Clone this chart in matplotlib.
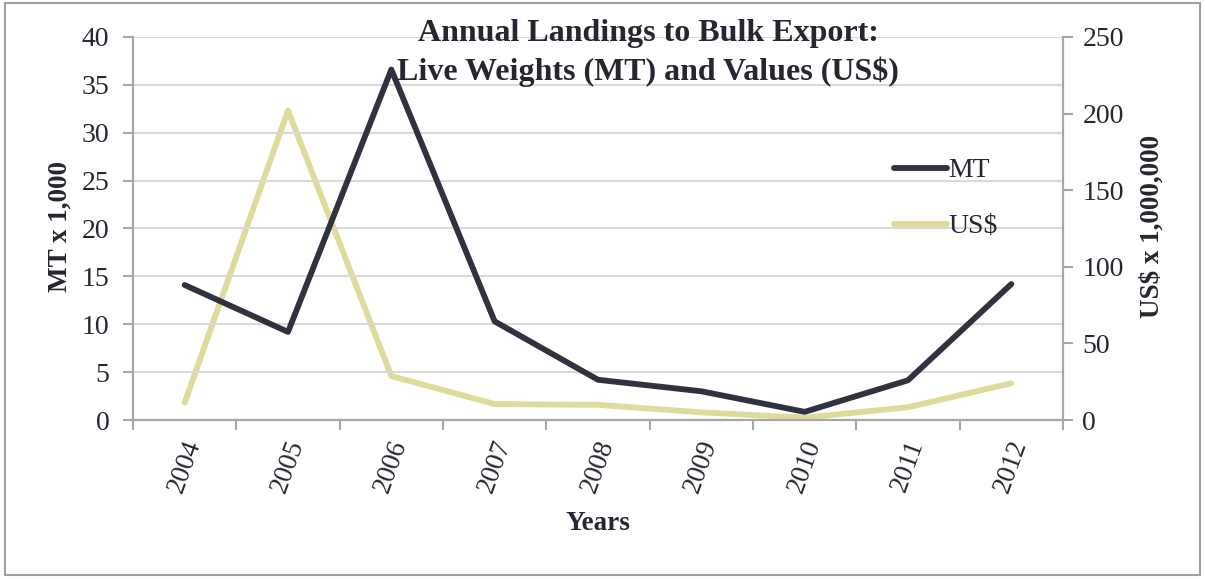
import matplotlib
matplotlib.use("Agg")
import matplotlib.pyplot as plt
from matplotlib.lines import Line2D
from matplotlib.patches import Rectangle
import numpy as np

years = ["2004", "2005", "2006", "2007", "2008", "2009", "2010", "2011", "2012"]
mt_thousands = [14.1, 9.2, 36.6, 10.3, 4.2, 3.0, 0.85, 4.15, 14.2]
usd_millions = [11.3, 202.0, 28.7, 10.4, 9.9, 5.0, 1.5, 8.3, 24.0]

title_lines = ["Annual Landings to Bulk Export:", "Live Weights (MT) and Values (US$)"]

plt.rcParams['font.family'] = ['Liberation Serif', 'DejaVu Serif']

W, H = 1205, 579
fig = plt.figure(figsize=(W / 100, H / 100), dpi=100)
fig.patch.set_facecolor("white")

left, right, top, bottom = 133 / W, 1063 / W, 1 - 37 / H, 1 - 420 / H
ax = fig.add_axes([left, bottom, right - left, top - bottom])
ax2 = ax.twinx()

mt_color = "#30323f"
usd_color = "#dedb9b"
grey = "#a6a6a6"
text_color = "#262630"

x = np.arange(len(years))
ax.plot(x, mt_thousands, color=mt_color, lw=4.2, solid_capstyle="round", zorder=3)
ax2.plot(x, usd_millions, color=usd_color, lw=4.2, solid_capstyle="round", zorder=2)
ax.set_zorder(ax2.get_zorder() + 1)
ax.patch.set_visible(False)

ax.set_xlim(-0.5, len(years) - 0.5)
ax.set_ylim(0, 40)
ax2.set_ylim(0, 250)
ax.set_yticks(np.arange(0, 41, 5))
ax2.set_yticks(np.arange(0, 251, 50))
ax.yaxis.grid(True, color="#d9d9d9", lw=1.5)
ax.set_axisbelow(True)

ax.set_xticks(np.arange(-0.5, len(years), 1.0))
ax.set_xticklabels([])
ax.set_xticks(x, minor=True)
ax.set_xticklabels(years, minor=True, rotation=70, ha="center", va="top", fontsize=19.5, color=text_color)
ax.tick_params(axis="x", which="minor", length=0, pad=12)
ax.tick_params(axis="x", which="major", length=7, width=1.5, color=grey, direction="out")

for a in (ax, ax2):
    for s in a.spines.values():
        s.set_color(grey)
        s.set_linewidth(1.5)
    a.spines["top"].set_visible(False)
ax.tick_params(axis="y", length=7, width=1.5, color=grey, labelsize=20, labelcolor=text_color, pad=10)
ax2.tick_params(axis="y", length=7, width=1.5, color=grey, labelsize=20, labelcolor=text_color, pad=7)

fig.text(60 / W, 1 - 226 / H, "MT x 1,000", rotation=90, ha="center", va="center",
         fontsize=19.5, fontweight="bold", color=text_color)
fig.text(1152 / W, 1 - 226 / H, "US$ x 1,000,000", rotation=90, ha="center", va="center",
         fontsize=19.5, fontweight="bold", color=text_color)
fig.text(598 / W, 1 - 523 / H, "Years", ha="center", va="center",
         fontsize=19.5, fontweight="bold", color=text_color)

fig.text(648 / W, 1 - 33 / H, title_lines[0], ha="center", va="center",
         fontsize=23, fontweight="bold", color=text_color, zorder=5)
fig.text(648 / W, 1 - 72 / H, title_lines[1], ha="center", va="center",
         fontsize=23, fontweight="bold", color=text_color, zorder=5)

handles = [Line2D([0], [0], color=mt_color, lw=4.2, solid_capstyle="round"),
           Line2D([0], [0], color=usd_color, lw=4.2, solid_capstyle="round")]
leg = ax.legend(handles, ["MT", "US$"], loc="upper left", bbox_to_anchor=(880 / W, 1 - 144 / H),
                bbox_transform=fig.transFigure, frameon=False, fontsize=20,
                handlelength=1.9, handletextpad=0.05, labelspacing=1.1, borderpad=0)
for t in leg.get_texts():
    t.set_color(text_color)

fig.patches.append(Rectangle((5 / W, 1 - 575 / H), 1195 / W, 572 / H, transform=fig.transFigure,
                             fill=False, edgecolor="#a0a0a0", lw=1.5))

fig.savefig("out.png", dpi=100)
